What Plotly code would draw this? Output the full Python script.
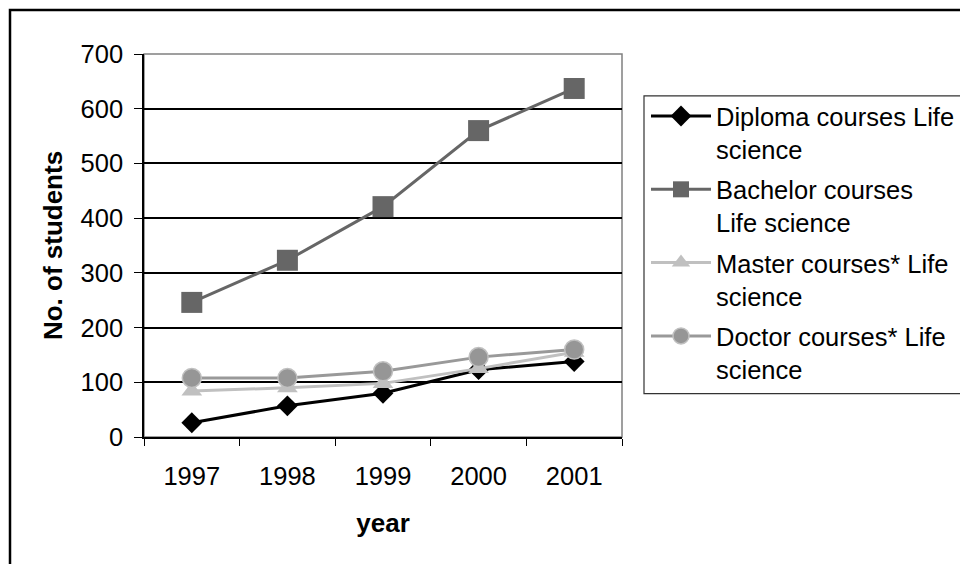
import plotly.graph_objects as go

years = ["1997", "1998", "1999", "2000", "2001"]
diploma = [26, 57, 80, 123, 138]
bachelor = [246, 323, 421, 560, 637]
master = [84, 90, 98, 125, 155]
doctor = [108, 108, 120, 146, 160]

names = [
    "Diploma courses Life<br>science",
    "Bachelor courses<br>Life science",
    "Master courses* Life<br>science",
    "Doctor courses* Life<br>science",
]

FONT = "Liberation Sans, Arial, sans-serif"
FS_TICK = 25.5
FS_TEXT = 26
FS_LEG = 25.5

W, H = 960, 564
L, R, T, B = 144, 622, 54, 437.5
pw, ph = R - L, B - T

def px(x):
    return (x - L) / pw

def py(y):
    return (B - y) / ph

fig = go.Figure()
fig.add_trace(go.Scatter(x=years, y=diploma, name=names[0], mode="lines+markers", legendgroup="a",
                         line=dict(color="#000000", width=3),
                         marker=dict(symbol="diamond", size=16, color="#000000")))
fig.add_trace(go.Scatter(x=years, y=bachelor, name=names[1], mode="lines+markers", legendgroup="b",
                         line=dict(color="#666666", width=3),
                         marker=dict(symbol="square", size=21, color="#666666")))
fig.add_trace(go.Scatter(x=years, y=master, name=names[2], mode="lines+markers", legendgroup="c",
                         line=dict(color="#c0c0c0", width=3),
                         marker=dict(symbol="triangle-up", size=18, color="#c0c0c0")))
fig.add_trace(go.Scatter(x=years, y=doctor, name=names[3], mode="lines+markers", legendgroup="d",
                         line=dict(color="#999999", width=3),
                         marker=dict(symbol="circle", size=19, color="#969696",
                                     line=dict(color="#c0c0c0", width=1.5))))

shapes = [
    dict(type="rect", xref="paper", yref="paper", x0=0, x1=1, y0=0, y1=1,
         line=dict(color="#808080", width=1.5), layer="below"),
    dict(type="rect", xref="paper", yref="paper", x0=px(10), x1=px(1010), y0=py(620), y1=py(10),
         line=dict(color="#000000", width=2.5), layer="below"),
    dict(type="rect", xref="paper", yref="paper", x0=px(644), x1=px(1010), y0=py(394), y1=py(96),
         line=dict(color="#333333", width=1.2), layer="below"),
]

fig.update_layout(
    width=W, height=H,
    margin=dict(l=L, r=W - R, t=T, b=H - B, pad=0, autoexpand=False),
    paper_bgcolor="white", plot_bgcolor="white",
    font=dict(family=FONT, size=FS_TICK, color="#000000"),
    showlegend=True,
    legend=dict(x=px(646), y=py(93), xanchor="left", yanchor="top",
                bgcolor="rgba(0,0,0,0)", borderwidth=0, valign="top",
                itemwidth=60, tracegroupgap=4,
                font=dict(family=FONT, size=FS_LEG, color="#000000")),
    shapes=shapes,
)

fig.update_xaxes(type="category", range=[-0.5, 4.5], showgrid=False,
                 showline=True, linecolor="#000000", linewidth=1.5,
                 ticks="outside", ticklen=7, tickcolor="#000000", tickwidth=1.2,
                 tickson="boundaries", ticklabelstandoff=16,
                 tickfont=dict(family=FONT, size=FS_TICK),
                 title=dict(text="<b>year</b>", font=dict(family=FONT, size=FS_TEXT), standoff=24))
fig.update_yaxes(range=[0, 700], dtick=100, showgrid=True, gridcolor="#000000", gridwidth=1.5,
                 showline=True, linecolor="#000000", linewidth=1.5, zeroline=False,
                 ticks="outside", ticklen=8, tickcolor="#000000", tickwidth=1.2,
                 ticklabelstandoff=6,
                 tickfont=dict(family=FONT, size=FS_TICK),
                 title=dict(text="<b>No. of students</b>", font=dict(family=FONT, size=FS_TEXT), standoff=11))

fig.write_html("out.html", config={"displayModeBar": False},
               post_script="document.body.style.margin='0';")
